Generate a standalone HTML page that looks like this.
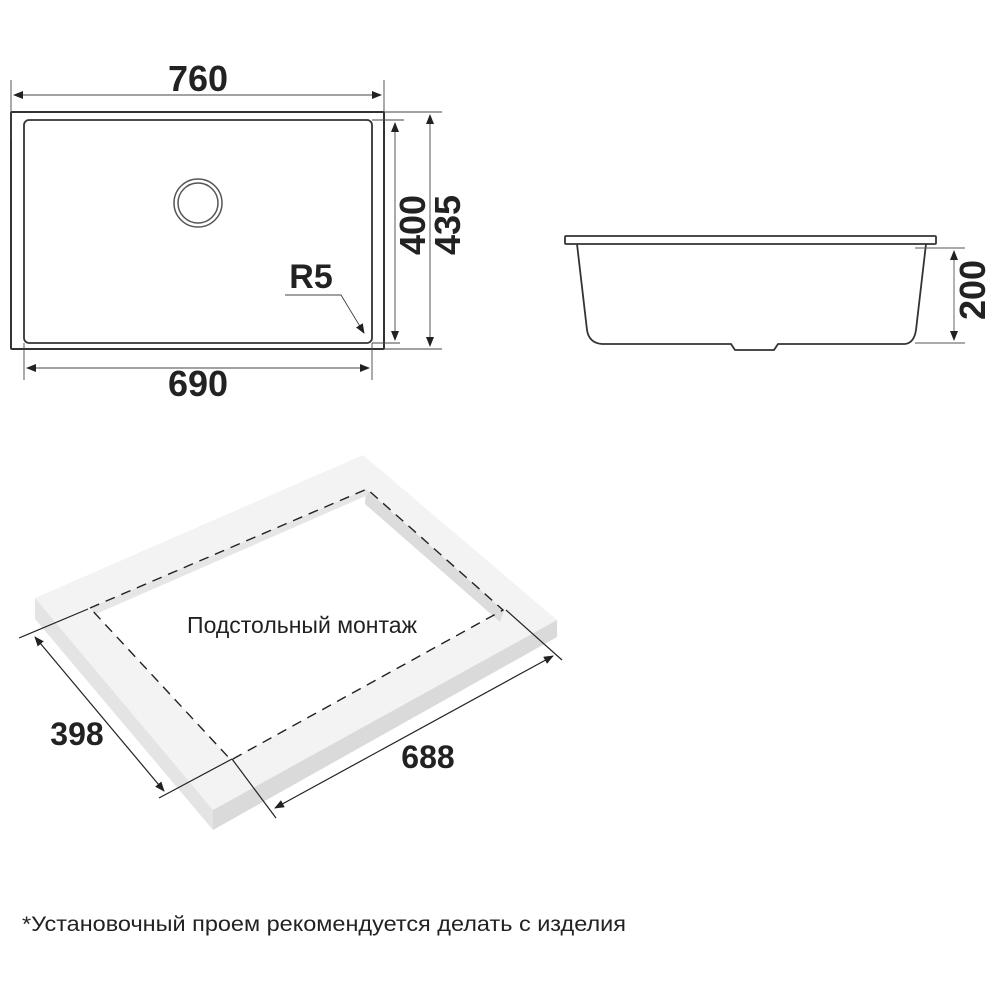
<!DOCTYPE html>
<html><head><meta charset="utf-8"><style>
html,body{margin:0;padding:0;background:#fff;width:1000px;height:1000px;overflow:hidden}
svg{display:block}
.d{font-family:"Liberation Sans",sans-serif;font-weight:bold;fill:#222}
.t{font-family:"Liberation Sans","Noto Sans CJK SC",sans-serif;fill:#222}
</style></head><body>
<svg width="1000" height="1000" viewBox="0 0 1000 1000" xmlns="http://www.w3.org/2000/svg">
<defs>
<marker id="a" markerWidth="10" markerHeight="8" refX="9" refY="4" orient="auto-start-reverse" markerUnits="userSpaceOnUse">
<path d="M0,0 L10,4 L0,8 z" fill="#222"/></marker>
</defs>
<!-- Top view -->
<g fill="none" stroke="#333">
<rect x="11" y="112" width="373" height="237" stroke-width="2" rx="1"/>
<rect x="24" y="120" width="348" height="223" rx="5" stroke-width="1.8"/>
<circle cx="198" cy="203" r="24" stroke-width="1.5" stroke="#555"/>
<circle cx="198" cy="203" r="20" stroke-width="1.5" stroke="#555"/>
</g>
<g stroke="#444" stroke-width="0.9" fill="none">
<line x1="11" y1="80" x2="11" y2="140"/>
<line x1="384" y1="80" x2="384" y2="112"/>
<line x1="14" y1="95" x2="381" y2="95" marker-start="url(#a)" marker-end="url(#a)"/>
<line x1="372" y1="120" x2="404" y2="120"/>
<line x1="372" y1="343" x2="400" y2="343"/>
<line x1="395" y1="123" x2="395" y2="340" marker-start="url(#a)" marker-end="url(#a)"/>
<line x1="384" y1="112" x2="442" y2="112"/>
<line x1="384" y1="349" x2="442" y2="349"/>
<line x1="430" y1="115" x2="430" y2="346" marker-start="url(#a)" marker-end="url(#a)"/>
<line x1="24" y1="343" x2="24" y2="380"/>
<line x1="372" y1="343" x2="372" y2="380"/>
<line x1="27" y1="368" x2="369" y2="368" marker-start="url(#a)" marker-end="url(#a)"/>
<polyline points="285,295 341,295 364,333" marker-end="url(#a)"/>
</g>
<text class="d" x="198" y="91" font-size="36" text-anchor="middle">760</text>
<text class="d" x="198" y="396" font-size="36" text-anchor="middle">690</text>
<text class="d" x="311" y="288" font-size="34" text-anchor="middle">R5</text>
<text class="d" font-size="36" text-anchor="middle" transform="translate(425,225) rotate(-90)">400</text>
<text class="d" font-size="36" text-anchor="middle" transform="translate(460,225) rotate(-90)">435</text>
<!-- Side view -->
<g fill="none" stroke="#333" stroke-width="1.8">
<rect x="565" y="236" width="371" height="8" rx="1"/>
<path d="M577,244 L587,330 Q589,343 602,344 L731,344 L735,350 L774,350 L778,344 L905,344 Q914,343 916,330 L926,244"/>
</g>
<g stroke="#555" stroke-width="0.9" fill="none">
<line x1="915" y1="248" x2="965" y2="248"/>
<line x1="915" y1="343" x2="965" y2="343"/>
<line x1="954" y1="251" x2="954" y2="340" marker-start="url(#a)" marker-end="url(#a)"/>
</g>
<text class="d" font-size="36" text-anchor="middle" transform="translate(985,290) rotate(-90)">200</text>
<!-- Iso view -->
<polygon points="35,598 363,455 557,620 213,810" fill="#f3f3f3"/>
<polygon points="35,598 213,810 213,830 35,619" fill="#e4e4e4"/>
<polygon points="213,810 557,620 557,637 213,830" fill="#dadada"/>
<polygon points="90,608 367,489 503,610 231,760" fill="#fff"/>
<polygon points="366,489 504,611 500,622 365,504" fill="#dcdcdc"/>
<polygon points="90,608 367,489 368,495 96,614" fill="#e6e6e6"/>
<polygon points="90,608 367,489 503,610 231,760" fill="none" stroke="#222" stroke-width="1.4" stroke-dasharray="10,7"/>
<g stroke="#222" stroke-width="1.2" fill="none">
<line x1="19" y1="638" x2="88" y2="609"/>
<line x1="159" y1="798" x2="232" y2="759"/>
<line x1="35" y1="637" x2="164" y2="791" marker-start="url(#a)" marker-end="url(#a)"/>
<line x1="232" y1="759" x2="276" y2="818"/>
<line x1="506" y1="610" x2="562" y2="660"/>
<line x1="275" y1="808" x2="553" y2="656" marker-start="url(#a)" marker-end="url(#a)"/>
</g>
<text class="d" x="77" y="745" font-size="32" text-anchor="middle">398</text>
<text class="d" x="428" y="768" font-size="32" text-anchor="middle">688</text>
<text class="t" x="302" y="633" font-size="23" text-anchor="middle">Подстольный монтаж</text>
<text class="t" x="22" y="931" font-size="21" textLength="604" lengthAdjust="spacingAndGlyphs">*Установочный проем рекомендуется делать с изделия</text>
</svg>
</body></html>
